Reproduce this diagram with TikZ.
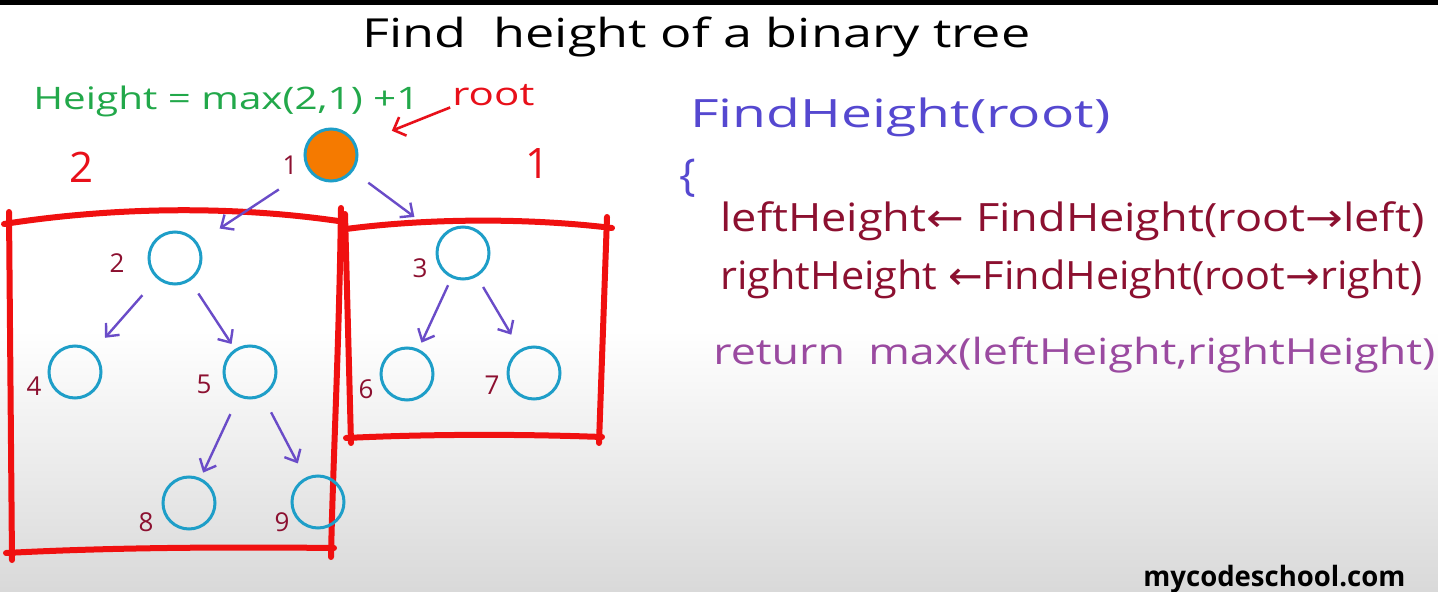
\documentclass[tikz,border=0pt]{standalone}
\usepackage{fontspec}
\setmainfont{Open Sans}
\newfontfamily\symf{DejaVu Sans}
\usetikzlibrary{arrows.meta}
\definecolor{hgreen}{HTML}{22A84A}
\definecolor{hred}{HTML}{E8101A}
\definecolor{boxred}{HTML}{F01010}
\definecolor{hpurple}{HTML}{6A4CC8}
\definecolor{hblue}{HTML}{5548D0}
\definecolor{hmaroon}{HTML}{8C1030}
\definecolor{hmauve}{HTML}{9A4AA0}
\definecolor{hcyan}{HTML}{1E9EC8}
\definecolor{horange}{HTML}{F57A00}
\newcommand\fitw[2]{\resizebox{#1}{\height}{#2}}
\tikzset{
  tnode/.style={circle, draw=hcyan, line width=1.5pt, minimum size=26pt, inner sep=0pt},
  lbl/.style={text=hmaroon, font=\fontsize{13}{15}\selectfont, inner sep=0pt},
  txt/.style={inner sep=0pt, anchor=base west},
  edge/.style={draw=hpurple, line width=1.2pt, -{Straight Barb[length=5pt,width=9pt,line width=1.2pt]}},
  redarr/.style={draw=hred, line width=1.3pt, -{Straight Barb[length=5pt,width=10pt,line width=1.3pt]}},
  boxline/.style={draw=boxred, line width=3pt, line cap=round}
}
\begin{document}
\begin{tikzpicture}[x=0.5pt,y=-0.5pt]
\useasboundingbox (0,0) rectangle (1438,592);
% background
\fill[white] (0,0) rectangle (1438,330);
\shade[top color=white, bottom color=black!15] (0,330) rectangle (1438,592);
\fill[black] (0,0) rectangle (1438,5);

% title
\node[txt] (title) at (362,48) {\fontsize{20}{24}\selectfont\fitw{334pt}{Find\ \ height of a binary tree}};

% green formula
\node[txt, text=hgreen] (formula) at (33,110) {\fontsize{15.5}{18}\selectfont\fitw{193pt}{Height = max(2,1) +1}};
\node[txt, text=hred] (rootlbl) at (452,106) {\fontsize{16}{18}\selectfont\fitw{41pt}{root}};

% red heights
\node[text=hred, inner sep=0pt, font=\fontsize{21}{24}\selectfont] (hl) at (82,167) {2};
\node[text=hred, inner sep=0pt, font=\fontsize{21}{24}\selectfont] (hr) at (537,164) {1};

% boxes
\draw[boxline] (4,224) .. controls (120,206) and (240,206) .. (345,222);
\draw[boxline] (9,212) -- (12,560);
\draw[boxline] (341,208) .. controls (339,350) and (333,460) .. (331,557);
\draw[boxline] (6,553) .. controls (120,547) and (240,547) .. (334,548);
\draw[boxline] (346,229) .. controls (430,218) and (530,218) .. (612,228);
\draw[boxline] (345,214) -- (351,443);
\draw[boxline] (607,217) -- (599,443);
\draw[boxline] (346,438) .. controls (430,434) and (520,434) .. (602,437);

% tree nodes
\node[tnode, fill=horange] (root) at (331,155) {};
\node[tnode] (n2) at (175,258) {};
\node[tnode] (n3) at (463,253) {};
\node[tnode] (n4) at (75,372) {};
\node[tnode] (n5) at (250,372) {};
\node[tnode] (n6) at (407,374) {};
\node[tnode] (n7) at (534,373) {};
\node[tnode] (n8) at (189,503) {};
\node[tnode] (n9) at (318,502) {};

% node labels
\node[lbl] (l1) at (290,165) {1};
\node[lbl] (l2) at (117,263) {2};
\node[lbl] (l3) at (420,268) {3};
\node[lbl] (l4) at (34,386) {4};
\node[lbl] (l5) at (204,384) {5};
\node[lbl] (l6) at (366,389) {6};
\node[lbl] (l7) at (492,385) {7};
\node[lbl] (l8) at (146,522) {8};
\node[lbl] (l9) at (282,522) {9};

% edges
\draw[edge, shorten <=17.5pt, shorten >=13pt] (root) -- (n2);
\draw[edge, shorten <=9.5pt, shorten >=16.5pt] (root) -- (n3);
\draw[edge, shorten <=11pt, shorten >=9pt] (n2) -- (n4);
\draw[edge, shorten <=7.5pt, shorten >=3pt] (n2) -- (n5);
\draw[edge, shorten <=4pt, shorten >=3.5pt] (n3) -- (n6);
\draw[edge, shorten <=6pt, shorten >=8.5pt] (n3) -- (n7);
\draw[edge, shorten <=9.5pt, shorten >=3pt] (n5) -- (n8);
\draw[edge, shorten <=9pt, shorten >=8pt] (n5) -- (n9);
\draw[redarr, shorten <=1pt, shorten >=19pt] (rootlbl.south west) -- (root);

% code
\node[txt, text=hblue] (fh) at (690,128) {\fontsize{19.5}{22}\selectfont\fitw{210pt}{FindHeight(root)}};
\node[text=hblue, inner sep=0pt, font=\fontsize{22}{24}\selectfont] (brace) at (688,178) {\{};
\node[txt, text=hmaroon] (c1) at (720,232) {\fontsize{19.5}{22}\selectfont\fitw{352pt}{leftHeight{\symf ←} FindHeight(root{\symf →}left)}};
\node[txt, text=hmaroon] (c2) at (720,290) {\fontsize{19.5}{22}\selectfont\fitw{351pt}{rightHeight {\symf ←}FindHeight(root{\symf →}right)}};
\node[txt, text=hmauve] (c3) at (713,365) {\fontsize{18}{22}\selectfont\fitw{361pt}{return\ \ max(leftHeight,rightHeight)}};

% watermark
\node[txt] (mcs) at (1143,586) {\fontsize{14}{16}\selectfont\bfseries\fitw{131pt}{mycodeschool.com}};
\end{tikzpicture}
\end{document}
